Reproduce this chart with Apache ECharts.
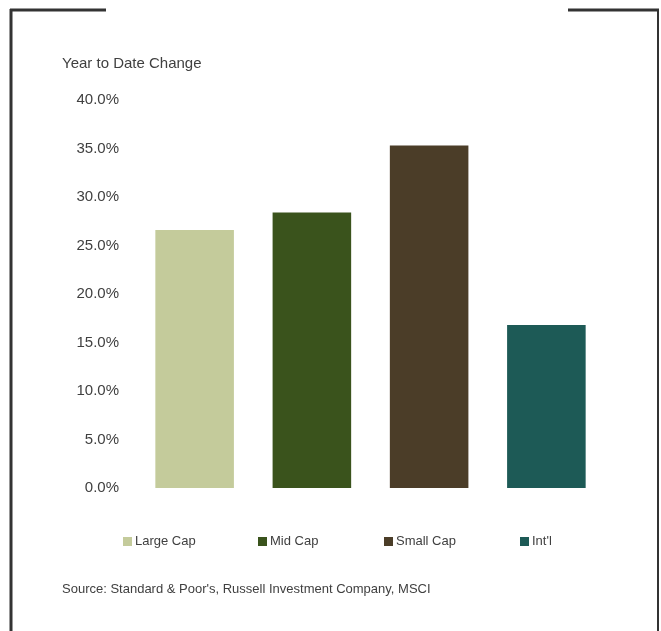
<!DOCTYPE html>
<html>
<head>
<meta charset="utf-8">
<script src="https://cdn.jsdelivr.net/npm/echarts@6/dist/echarts.min.js"></script>
<style>
    html, body { margin: 0; padding: 0; background: #fff; }
    #chart { width: 661px; height: 631px; }
</style>
</head>
<body>
<div id="chart"></div>
<script>
var categories = ['Large Cap', 'Mid Cap', 'Small Cap', "Int'l"];
var values = [26.6, 28.4, 35.3, 16.8];
var colors = ['#C4CB9B', '#3A531C', '#4B3D28', '#1D5A56'];
var yTicks = [0, 5, 10, 15, 20, 25, 30, 35, 40];

var font = '"Liberation Sans", Arial, sans-serif';
var textColor = '#404040';

var chart = echarts.init(document.getElementById('chart'));

// one series per category so the legend shows each one
var series = [];
var legends = [];
var legendLeft = [123, 258, 384, 520];
for (var i in categories) {
    var data = [];
    for (var j in categories) {
        data.push(i == j ? values[i] : '-');
    }
    series.push({
        name: categories[i],
        type: 'bar',
        stack: 'all',
        barWidth: '67%',
        itemStyle: {color: colors[i]},
        data: data
    });
    legends.push({
        data: [categories[i]],
        left: legendLeft[i],
        top: 535,
        padding: 0,
        icon: 'rect',
        itemWidth: 9,
        itemHeight: 9,
        textStyle: {fontFamily: font, fontSize: 13, color: textColor, padding: [0, 0, 0, -2]}
    });
}

var option = {
    animation: false,
    title: [
        {
            text: 'Year to Date Change',
            left: 62,
            top: 56,
            padding: 0,
            textStyle: {fontFamily: font, fontSize: 15, fontWeight: 'normal', color: textColor}
        },
        {
            text: "Source: Standard & Poor's, Russell Investment Company, MSCI",
            left: 62,
            top: 583,
            padding: 0,
            textStyle: {fontFamily: font, fontSize: 13, fontWeight: 'normal', color: textColor}
        }
    ],
    legend: legends,
    grid: {left: 136, right: 56, top: 100, bottom: 143, containLabel: false},
    xAxis: {
        type: 'category',
        data: categories,
        axisLine: {show: false},
        axisTick: {show: false},
        axisLabel: {show: false}
    },
    yAxis: {
        type: 'value',
        min: yTicks[0],
        max: yTicks[yTicks.length - 1],
        interval: 5,
        splitLine: {show: false},
        axisLine: {show: false},
        axisTick: {show: false},
        axisLabel: {
            margin: 17,
            padding: [4, 0, 0, 0],
            fontFamily: font,
            fontSize: 15,
            color: textColor,
            formatter: function (v) { return v.toFixed(1) + '%'; }
        }
    },
    graphic: [
        {type: 'line', shape: {x1: 10, y1: 10, x2: 106, y2: 10}, style: {stroke: '#333', lineWidth: 3}},
        {type: 'line', shape: {x1: 11, y1: 9, x2: 11, y2: 631}, style: {stroke: '#333', lineWidth: 3}},
        {type: 'line', shape: {x1: 568, y1: 10, x2: 659, y2: 10}, style: {stroke: '#333', lineWidth: 3}},
        {type: 'line', shape: {x1: 658, y1: 9, x2: 658, y2: 631}, style: {stroke: '#333', lineWidth: 2}}
    ],
    series: series
};

chart.setOption(option);
</script>
</body>
</html>
